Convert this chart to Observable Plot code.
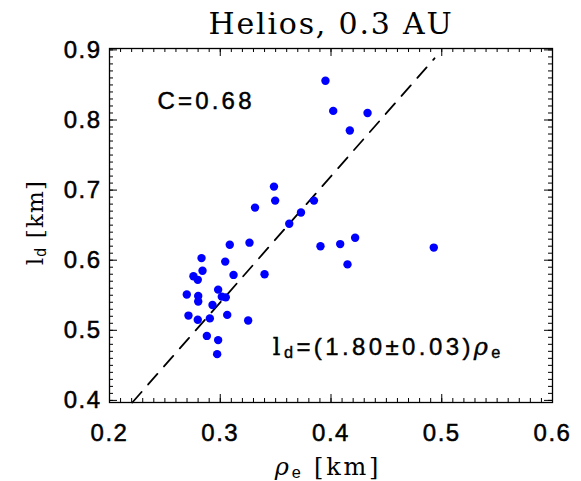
<!DOCTYPE html>
<html><head><meta charset="utf-8">
<script src="https://cdn.jsdelivr.net/npm/d3@7"></script>
<script src="https://cdn.jsdelivr.net/npm/@observablehq/plot@0.6"></script>
<style>html,body{margin:0;padding:0;background:#fff}</style>
</head><body><div id="chart"></div>
<script>
// Data
const rhoE = [0.395,0.402,0.433,0.417,0.3485,0.3496,0.3314,0.3846,0.3729,0.3623,0.3264,0.3905,0.4083,0.4218,0.4149,0.4928,0.340,0.3086,0.2831,0.3045,0.284,0.312,0.2758,0.2797,0.2981,0.2698,0.2801,0.3014,0.305,0.2801,0.293,0.2713,0.2797,0.2906,0.3063,0.3252,0.2879,0.2981,0.2972];
const lD = [0.856,0.813,0.810,0.785,0.705,0.685,0.675,0.685,0.668,0.652,0.625,0.620,0.623,0.632,0.594,0.618,0.580,0.622,0.603,0.598,0.585,0.579,0.577,0.572,0.558,0.551,0.549,0.548,0.547,0.541,0.536,0.521,0.515,0.517,0.522,0.514,0.492,0.486,0.466];
const fitRho = [0.2206, 0.4935];
const fitL = [0.397, 0.888];
const xTicks = [0.2, 0.3, 0.4, 0.5, 0.6];
const yTicks = [0.4, 0.5, 0.6, 0.7, 0.8, 0.9];
const xMinor = d3.range(20, 61).map(v => v / 100);
const yMinor = d3.range(40, 91).map(v => v / 100);
const titleText = "Helios, 0.3 AU";
const corrText = "C=0.68";
const fitText = "ld=(1.80±0.03)ρe";
const xLabel = "ρe [km]";
const yLabel = "ld [km]";

const points = rhoE.map((r, i) => ({rho: r, l: lD[i]}));
const fitLine = fitRho.map((r, i) => ({rho: r, l: fitL[i]}));

const SANS = "Liberation Sans, Helvetica, Arial, sans-serif";
const SERIF = "DejaVu Serif, serif";

const W = 581, H = 481, ML = 109, MR = 29, MT = 48, MB = 79;
const FW = W - ML - MR, FH = H - MT - MB;
const MAJ = 8, MIN = 4;
const id = d => d;

const chart = Plot.plot({
  width: W, height: H,
  marginLeft: ML, marginRight: MR, marginTop: MT, marginBottom: MB,
  x: {domain: [0.2, 0.6], label: null},
  y: {domain: [0.397, 0.902], label: null},
  style: {background: "white", color: "black", fontFamily: SANS, overflow: "visible"},
  marks: [
    // minor ticks (inward) on all four sides
    Plot.tickX(xMinor, {x: id, insetTop: FH - MIN, stroke: "black", strokeWidth: 1}),
    Plot.tickX(xMinor, {x: id, insetBottom: FH - MIN, stroke: "black", strokeWidth: 1}),
    Plot.tickY(yMinor, {y: id, insetRight: FW - MIN, stroke: "black", strokeWidth: 1}),
    Plot.tickY(yMinor, {y: id, insetLeft: FW - MIN, stroke: "black", strokeWidth: 1}),
    // major ticks (inward)
    Plot.tickX(xTicks, {x: id, insetTop: FH - MAJ, stroke: "black", strokeWidth: 1}),
    Plot.tickX(xTicks, {x: id, insetBottom: FH - MAJ, stroke: "black", strokeWidth: 1}),
    Plot.tickY(yTicks, {y: id, insetRight: FW - MAJ, stroke: "black", strokeWidth: 1}),
    Plot.tickY(yTicks, {y: id, insetLeft: FW - MAJ, stroke: "black", strokeWidth: 1}),
    // tick labels
    Plot.axisX({ticks: xTicks, anchor: "bottom", tickSize: 0, tickPadding: 21, fontSize: 24, label: null, tickFormat: d => d.toFixed(1)}),
    Plot.axisY({ticks: yTicks, anchor: "left", tickSize: 0, tickPadding: 8, fontSize: 24, label: null, tickFormat: d => d.toFixed(1)}),
    Plot.frame({stroke: "black", strokeWidth: 1.3}),
    Plot.line(fitLine, {x: "rho", y: "l", stroke: "black", strokeWidth: 1.8, strokeDasharray: "14,10"}),
    Plot.dot(points, {x: "rho", y: "l", r: 4.2, fill: "#0000ff", stroke: "none"}),
    Plot.text([corrText], {x: () => 0.2433, y: () => 0.826, textAnchor: "start", lineAnchor: "middle", fontSize: 24, fontFamily: SANS}),
    Plot.text([fitText], {x: () => 0.3475, y: () => 0.4755, textAnchor: "start", lineAnchor: "middle", fontSize: 24, fontFamily: SANS}),
    Plot.text([titleText], {frameAnchor: "top", textAnchor: "middle", dy: -24, lineAnchor: "middle", fontSize: 30, fontFamily: SERIF}),
    Plot.text([xLabel], {frameAnchor: "bottom", textAnchor: "middle", dx: -3, dy: 65, lineAnchor: "middle", fontSize: 24, fontFamily: SERIF}),
    Plot.text([yLabel], {frameAnchor: "left", textAnchor: "middle", dx: -74, dy: -3, rotate: -90, lineAnchor: "middle", fontSize: 23, fontFamily: SERIF})
  ]
});
document.getElementById("chart").appendChild(chart);

// Rich text (subscripts), weight and letter spacing
const svg = d3.select(chart);
function byText(content) {
  return svg.selectAll("text").filter(function() { return this.textContent === content; });
}
function rich(content, parts, spacing) {
  byText(content).each(function() {
    const t = d3.select(this);
    t.text(null);
    if (spacing != null) t.attr("letter-spacing", spacing);
    let shifted = 0;
    parts.forEach(p => {
      const ts = t.append("tspan").text(p.t);
      if (p.family) ts.attr("font-family", p.family);
      if (p.style) ts.attr("font-style", p.style);
      const want = p.sub ? p.sub : 0;
      if (want !== shifted) { ts.attr("dy", want - shifted); shifted = want; }
      if (p.sub) ts.attr("font-size", p.size || "68%");
    });
  });
}
byText(corrText).attr("letter-spacing", 3.2).attr("stroke", "black").attr("stroke-width", 0.5);
byText(fitText).attr("stroke", "black").attr("stroke-width", 0.4);
byText(titleText).attr("letter-spacing", 1.8);
rich(fitText, [
  {t: "l", family: SERIF}, {t: "d", sub: 3}, {t: "=(1.80±0.03)"},
  {t: "ρ", family: SERIF, style: "italic"}, {t: "e", sub: 3}
], 3.4);
rich(xLabel, [
  {t: "ρ", style: "italic"}, {t: "e", sub: 3, family: SANS}, {t: " [km]"}
], 2.8);
rich(yLabel, [
  {t: "l"}, {t: "d", sub: 3, family: SANS}, {t: " [km]"}
], 1.2);
svg.selectAll('g[aria-label="x-axis tick label"] text, g[aria-label="y-axis tick label"] text')
  .attr("letter-spacing", 1.5).attr("stroke", "black").attr("stroke-width", 0.5);
</script>
</body></html>
